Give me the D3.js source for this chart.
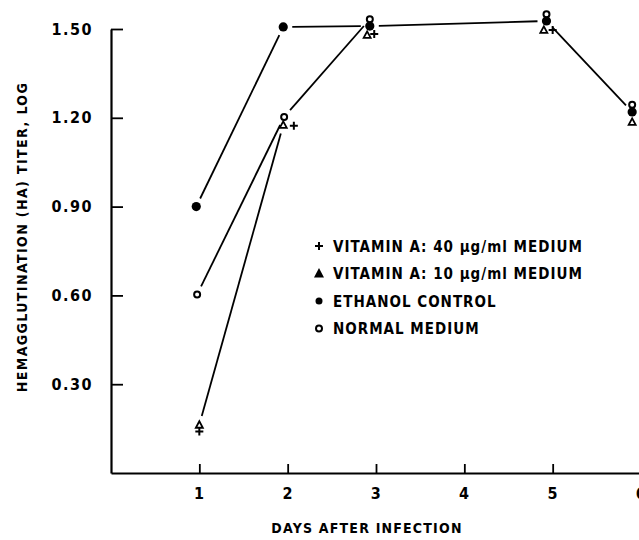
<!DOCTYPE html>
<html>
<head>
<meta charset="utf-8">
<script src="https://cdn.jsdelivr.net/npm/d3@7"></script>
<style>
  body { margin: 0; background: #fff; }
  text { font-family: "DejaVu Sans Condensed", "Liberation Sans Narrow", sans-serif; font-weight: bold; fill: #000; }
</style>
</head>
<body>
<svg id="chart" width="639" height="540"></svg>
<script>
// values (day positions as plotted, log HA titer)
var dayTicks = [1, 2, 3, 4, 5, 6];
var titerTicks = [0.30, 0.60, 0.90, 1.20, 1.50];

var vitA40Days   = [1.0, 2.07, 2.98, 5.0, 6.07];
var vitA40Titer  = [0.14, 1.173, 1.483, 1.497, 1.19];
var vitA10Days   = [1.0, 1.95, 2.9, 4.9, 5.9];
var vitA10Titer  = [0.163, 1.176, 1.48, 1.497, 1.186];
var ethanolDays  = [0.965, 1.95, 2.93, 4.93, 5.9];
var ethanolTiter = [0.90, 1.507, 1.51, 1.527, 1.22];
var normalDays   = [0.975, 1.96, 2.93, 4.93, 5.9];
var normalTiter  = [0.603, 1.203, 1.533, 1.55, 1.244];

var seriesNames = ['VITAMIN A: 40 \u00b5g/ml MEDIUM', 'VITAMIN A: 10 \u00b5g/ml MEDIUM',
                   'ETHANOL CONTROL', 'NORMAL MEDIUM'];

var series = [
  { name: seriesNames[0], mark: 'plus',     days: vitA40Days,  titer: vitA40Titer,  links: [] },
  { name: seriesNames[1], mark: 'triangle', days: vitA10Days,  titer: vitA10Titer,  links: [[0, 1]] },
  { name: seriesNames[2], mark: 'filled',   days: ethanolDays, titer: ethanolTiter, links: [[0, 1], [1, 2], [2, 3], [3, 4]] },
  { name: seriesNames[3], mark: 'open',     days: normalDays,  titer: normalTiter,  links: [[0, 1], [1, 2]] }
];

var svg = d3.select('#chart');
var x = d3.scaleLinear().domain([0, 6]).range([111, 641]);
var y = d3.scaleLinear().domain([0, 1.5]).range([473, 29]);

// axes
var xAxis = svg.append('g')
    .attr('transform', 'translate(0,' + y(0) + ')')
    .call(d3.axisBottom(x).tickValues(dayTicks).tickSizeInner(-9).tickSizeOuter(0)
            .tickPadding(15).tickFormat(d3.format('d')));
var yAxis = svg.append('g')
    .attr('transform', 'translate(' + x(0) + ',0)')
    .call(d3.axisLeft(y).tickValues(titerTicks).tickSizeInner(-12).tickSizeOuter(0)
            .tickPadding(18).tickFormat(d3.format('.2f')));

[xAxis, yAxis].forEach(function(a) {
  a.select('.domain').attr('stroke', '#000').attr('stroke-width', 2.2);
  a.selectAll('.tick line').attr('stroke', '#000').attr('stroke-width', 1.8);
  a.selectAll('.tick text').style('font-size', '16px').style('letter-spacing', '1.5px');
});

svg.append('text')
    .attr('x', 367).attr('y', 533)
    .attr('text-anchor', 'middle')
    .style('font-size', '14px').style('letter-spacing', '1.2px')
    .text('DAYS AFTER INFECTION');

svg.append('text')
    .attr('transform', 'translate(27,237) rotate(-90)')
    .attr('text-anchor', 'middle')
    .style('font-size', '14px').style('letter-spacing', '1.4px')
    .text('HEMAGGLUTINATION (HA) TITER, LOG');

// connecting lines, broken short of each marker
var gap = 9;
series.forEach(function(s) {
  s.links.forEach(function(l) {
    var x1 = x(s.days[l[0]]), y1 = y(s.titer[l[0]]),
        x2 = x(s.days[l[1]]), y2 = y(s.titer[l[1]]),
        len = Math.sqrt((x2 - x1) * (x2 - x1) + (y2 - y1) * (y2 - y1)),
        ux = (x2 - x1) / len, uy = (y2 - y1) / len;
    svg.append('line')
        .attr('x1', x1 + ux * gap).attr('y1', y1 + uy * gap)
        .attr('x2', x2 - ux * gap).attr('y2', y2 - uy * gap)
        .attr('stroke', '#000').attr('stroke-width', 1.8);
  });
});

function drawMark(g, mark, cx, cy, legend) {
  if (mark === 'plus') {
    g.append('path')
        .attr('d', 'M' + (cx - 4) + ',' + cy + 'H' + (cx + 4) + 'M' + cx + ',' + (cy - 4) + 'V' + (cy + 4))
        .attr('stroke', '#000').attr('stroke-width', 2).attr('fill', 'none');
  } else if (mark === 'triangle') {
    g.append('path')
        .attr('d', 'M' + cx + ',' + (cy - 3.5) + 'L' + (cx + 3.5) + ',' + (cy + 3) + 'L' + (cx - 3.5) + ',' + (cy + 3) + 'Z')
        .attr('stroke', '#000').attr('stroke-width', 1.8)
        .attr('fill', legend ? '#000' : '#fff');
  } else if (mark === 'filled') {
    g.append('circle').attr('cx', cx).attr('cy', cy).attr('r', legend ? 3.5 : 4.6)
        .attr('fill', '#000');
  } else {
    g.append('circle').attr('cx', cx).attr('cy', cy).attr('r', 3)
        .attr('fill', '#fff').attr('stroke', '#000').attr('stroke-width', 2);
  }
}

// markers: triangles and pluses first, circles on top as in the figure
var marks = svg.append('g');
[0, 1, 3, 2].forEach(function(i) {
  var s = series[i];
  s.days.forEach(function(d, j) {
    drawMark(marks, s.mark, x(d), y(s.titer[j]), false);
  });
});

// legend
var legend = svg.append('g').attr('transform', 'translate(319,246)');
series.forEach(function(s, i) {
  var row = legend.append('g').attr('transform', 'translate(0,' + (i * 27.5) + ')');
  drawMark(row, s.mark, 0, 0, true);
  row.append('text')
      .attr('x', 14).attr('y', 5.5)
      .style('font-size', '15px').style('letter-spacing', '1px')
      .text(s.name);
});
</script>
</body>
</html>
